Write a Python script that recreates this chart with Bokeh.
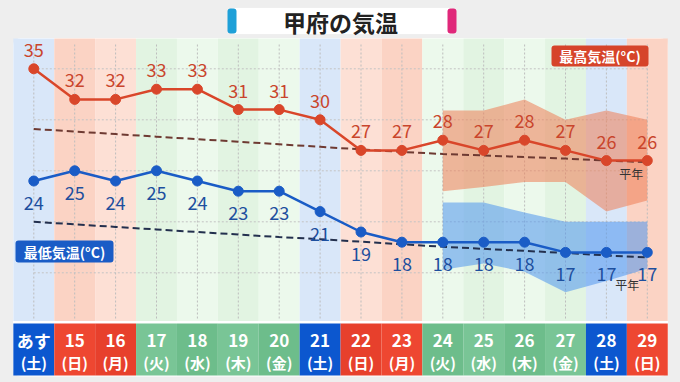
from bokeh.plotting import figure
from bokeh.models import Range1d, BoxAnnotation, Label, ColumnDataSource
from bokeh.embed import file_html
from bokeh.resources import INLINE
from bokeh.core.properties import value

# ---------------- data ----------------
days = ["あす", "15", "16", "17", "18", "19", "20", "21", "22", "23",
        "24", "25", "26", "27", "28", "29"]
weekdays = ["(土)", "(日)", "(月)", "(火)", "(水)", "(木)", "(金)", "(土)",
            "(日)", "(月)", "(火)", "(水)", "(木)", "(金)", "(土)", "(日)"]
day_kind = ["sat", "hol", "hol", "wd", "wd", "wd", "wd", "sat",
            "hol", "hol", "wd", "wd", "wd", "wd", "sat", "hol"]
high = [35, 32, 32, 33, 33, 31, 31, 30, 27, 27, 28, 27, 28, 27, 26, 26]
low = [24, 25, 24, 25, 24, 23, 23, 21, 19, 18, 18, 18, 18, 17, 17, 17]
high_normal = [29.1, 28.85, 28.6, 28.35, 28.1, 27.85, 27.6, 27.35, 27.1,
               26.85, 26.65, 26.5, 26.35, 26.2, 26.0, 25.85]
low_normal = [20.0, 19.75, 19.5, 19.25, 19.0, 18.75, 18.5, 18.3, 18.05,
              17.8, 17.55, 17.35, 17.15, 16.95, 16.7, 16.5]
band_idx = [10, 11, 12, 13, 14, 15]
high_band_top = [30.9, 30.9, 32.0, 30.0, 30.9, 30.0]
high_band_bot = [23.0, 23.4, 23.9, 23.9, 21.0, 22.1]
low_band_top = [21.9, 21.9, 20.9, 20.0, 20.0, 20.0]
low_band_bot = [15.3, 15.9, 15.1, 13.1, 14.2, 15.4]
grid_temps = [15, 20, 25, 30, 35]
title_text = "甲府の気温"
high_legend = "最高気温(°C)"
low_legend = "最低気温(°C)"
normal_label = "平年"

# ---------------- layout helpers (pixel -> data for decorations) -------
W, H = 680, 382
X0, DX = 33.3, 40.9      # image x of first column centre, column pitch
Y35, DY = 68.3, 10.2     # image y of 35 degrees, px per degree


def X(px):
    return (px - X0) / DX


def Y(py):
    return 35 - (py - Y35) / DY


FONT_NAME = "Noto Sans CJK JP"
FONT = value(FONT_NAME)

p = figure(width=W, height=H, output_backend="svg", toolbar_location=None,
           x_range=Range1d(X(0), X(W)), y_range=Range1d(Y(H), Y(0)),
           min_border=0, min_border_left=0, min_border_right=0,
           min_border_top=0, min_border_bottom=0)
p.axis.visible = False
p.xgrid.visible = False
p.ygrid.visible = False
p.outline_line_color = None
p.background_fill_color = "#eeeeee"
p.border_fill_color = "#eeeeee"

n = len(days)
xs = list(range(n))

# white panel behind everything
p.add_layout(BoxAnnotation(left=X(12.5), right=X(667.5), top=Y(37.5), bottom=Y(376),
                           fill_color="white", fill_alpha=1, line_color=None,
                           border_radius=8, level="underlay"))

# column background bands
band_cols = []
strip_cols = []
for i, k in enumerate(day_kind):
    alt = i % 2
    if k == "sat":
        band_cols.append("#d9e7f9")
        strip_cols.append("#0c57cf")
    elif k == "hol":
        band_cols.append("#fbd3c4" if alt else "#fde0d5")
        strip_cols.append("#ee4731" if alt else "#e7402c")
    else:
        band_cols.append("#e2f4e2" if alt else "#ecf9ec")
        strip_cols.append("#79c596" if alt else "#6dbd8b")

src_cols = ColumnDataSource(dict(
    left=[i - 0.5 for i in xs], right=[i + 0.5 for i in xs],
    band=band_cols, strip=strip_cols, day=days, wd=weekdays, x=xs))
p.quad(left="left", right="right", top=Y(38), bottom=Y(320.5),
       fill_color="band", line_color=None, source=src_cols)
p.quad(left="left", right="right", top=Y(323), bottom=Y(375),
       fill_color="strip", line_color=None, source=src_cols)

# dotted grid
p.segment(x0=xs, x1=xs, y0=Y(44), y1=Y(320), line_color="#bdbdbd",
          line_dash="2 2", line_width=1)
p.segment(x0=[0] * len(grid_temps), x1=[n - 1] * len(grid_temps),
          y0=grid_temps, y1=grid_temps, line_color="#c4c4c4",
          line_dash="2 2", line_width=1)

# uncertainty bands
p.varea(x=band_idx, y1=high_band_bot, y2=high_band_top,
        fill_color="#ef7d55", fill_alpha=0.55)
p.varea(x=band_idx, y1=low_band_bot, y2=low_band_top,
        fill_color="#4f95ee", fill_alpha=0.55)

# normal lines
p.line(xs, high_normal, line_color="#6e3a32", line_dash="7 4", line_width=2)
p.line(xs, low_normal, line_color="#23304e", line_dash="7 4", line_width=2)

# series
hi_col = "#d9462a"
lo_col = "#1a5cc6"
p.line(xs, high, line_color=hi_col, line_width=2.5)
p.scatter(xs, high, size=10, fill_color=hi_col, line_color=hi_col)
p.line(xs, low, line_color=lo_col, line_width=2.5)
p.scatter(xs, low, size=10, fill_color=lo_col, line_color=lo_col)

src_hi = ColumnDataSource(dict(x=xs, y=high, t=[str(v) for v in high]))
src_lo = ColumnDataSource(dict(x=xs, y=low, t=[str(v) for v in low]))
p.text(x="x", y="y", text="t", source=src_hi, text_font=FONT,
       text_font_size="18px", text_color="#c9452c", text_align="center",
       text_baseline="middle", y_offset=-19)
p.text(x="x", y="y", text="t", source=src_lo, text_font=FONT,
       text_font_size="18px", text_color="#1d4f9e", text_align="center",
       text_baseline="middle", y_offset=22)

# 平年 labels
p.text(x=[n - 1 - 0.39], y=[high_normal[-1]], text=[normal_label],
       text_font=FONT, text_font_size="12px", text_color="#333333",
       text_align="center", text_baseline="middle", y_offset=11)
p.text(x=[n - 1 - 0.49], y=[low_normal[-1]], text=[normal_label],
       text_font=FONT, text_font_size="12px", text_color="#333333",
       text_align="center", text_baseline="middle", y_offset=27)

# bottom strip text
p.text(x="x", y=Y(339.5), text="day", source=src_cols, text_font=FONT,
       text_font_size="17px", text_font_style="bold", text_color="white",
       text_align="center", text_baseline="middle")
p.text(x="x", y=Y(361.5), text="wd", source=src_cols, text_font=FONT,
       text_font_size="15px", text_font_style="bold", text_color="white",
       text_align="center", text_baseline="middle")

# legend boxes
p.add_layout(BoxAnnotation(left=X(551), right=X(648), top=Y(45), bottom=Y(66),
                           fill_color="#d6442a", fill_alpha=1, line_color=None,
                           border_radius=3))
p.add_layout(Label(x=X(599.5), y=Y(55.5), text=high_legend, text_font=FONT_NAME,
                   text_font_size="14px", text_font_style="bold",
                   text_color="white", text_align="center",
                   text_baseline="middle"))
p.add_layout(BoxAnnotation(left=X(15), right=X(113), top=Y(240), bottom=Y(262),
                           fill_color="#1a5cc6", fill_alpha=1, line_color=None,
                           border_radius=3))
p.add_layout(Label(x=X(64), y=Y(251), text=low_legend, text_font=FONT_NAME,
                   text_font_size="14px", text_font_style="bold",
                   text_color="white", text_align="center",
                   text_baseline="middle"))

# title
p.add_layout(BoxAnnotation(left=X(230), right=X(453), top=Y(7), bottom=Y(34),
                           fill_color="white", fill_alpha=1, line_color="#dddddd",
                           border_radius=4))
p.add_layout(BoxAnnotation(left=X(227), right=X(236), top=Y(8), bottom=Y(33),
                           fill_color="#1ea0d8", fill_alpha=1, line_color=None,
                           border_radius=3))
p.add_layout(BoxAnnotation(left=X(447), right=X(456), top=Y(8), bottom=Y(33),
                           fill_color="#e0287a", fill_alpha=1, line_color=None,
                           border_radius=3))
p.add_layout(Label(x=X(340), y=Y(21), text=title_text, text_font=FONT_NAME,
                   text_font_size="23px", text_font_style="bold",
                   text_color="#222222", text_align="center",
                   text_baseline="middle"))

html = file_html(p, INLINE)
html = html.replace("</head>", "<style>body{background:#eeeeee;}</style></head>", 1)
open("out.html", "w").write(html)
